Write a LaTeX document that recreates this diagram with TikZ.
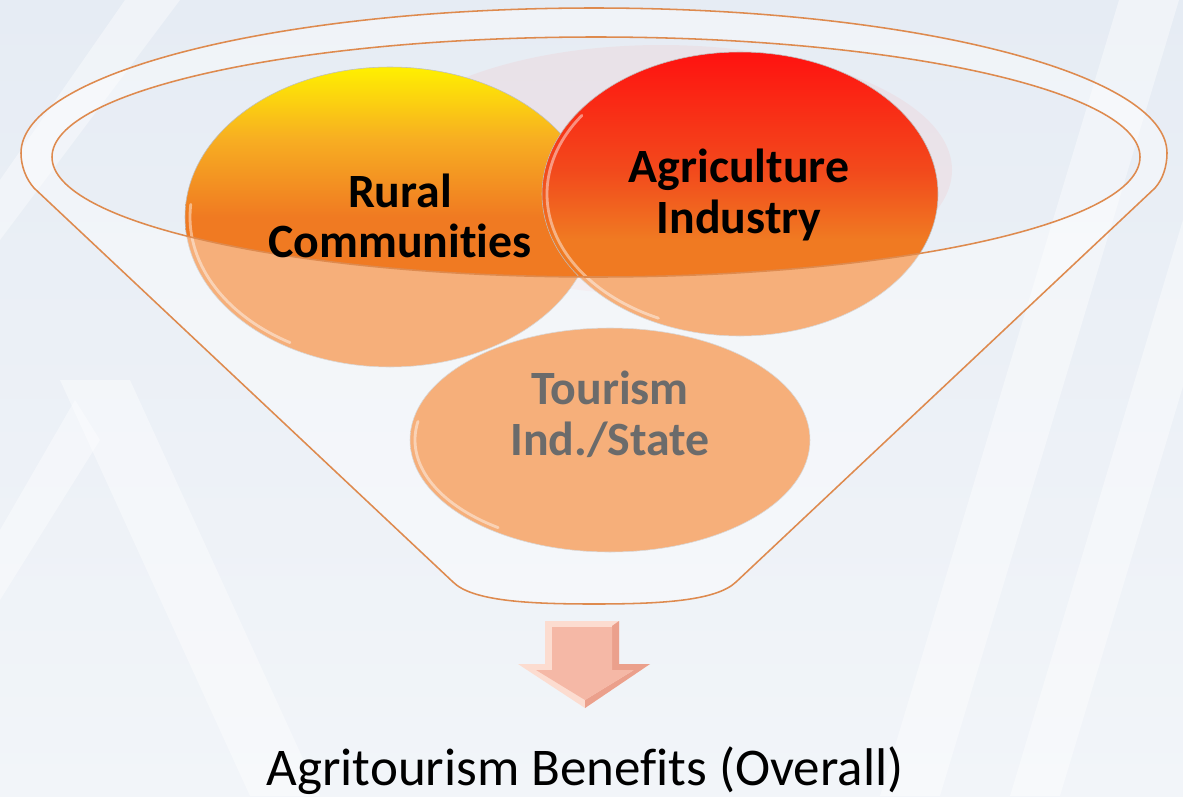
\documentclass[tikz,border=0pt]{standalone}
\usepackage{fontspec}
\setmainfont{Carlito}[Ligatures={NoCommon,NoContextual}]
\usepackage{xcolor}
\usepackage{tikz}
\usetikzlibrary{positioning}

\definecolor{bgtop}{HTML}{E6ECF4}
\definecolor{bgbottom}{HTML}{F2F5F9}
\definecolor{rimorange}{HTML}{DE8A4E}
\definecolor{baseorange}{HTML}{F07A22}
\definecolor{ruralyellow}{HTML}{FFF000}
\definecolor{ruralmid}{HTML}{F7AE22}
\definecolor{agrired}{HTML}{FF1210}
\definecolor{agrimid}{HTML}{F24A1C}
\definecolor{tourgrey}{HTML}{6B6B6B}
\definecolor{arrowpeach}{HTML}{F5B8A6}
\definecolor{arrowlight}{HTML}{FCDCD0}
\definecolor{arrowdark}{HTML}{EBA08C}

\pgfdeclareverticalshading{ruralshade}{100bp}{color(0bp)=(baseorange); color(50bp)=(baseorange); color(63bp)=(ruralmid); color(75bp)=(ruralyellow); color(100bp)=(ruralyellow)}
\pgfdeclareverticalshading{agrishade}{100bp}{color(0bp)=(baseorange); color(42bp)=(baseorange); color(54bp)=(agrimid); color(75bp)=(agrired); color(100bp)=(agrired)}

% outline of the funnel, rim on top
\newcommand\funneloutline{(21,153) arc[start angle=180, end angle=360, x radius=573, y radius=145]
    .. controls (1167,166) and (1163,179) .. (1155,188)
    -- (736,582)
    .. controls (716,601) and (660,604) .. (594,604)
    .. controls (528,604) and (472,601) .. (453,582)
    -- (34,188)
    .. controls (26,179) and (21,166) .. (21,153) -- cycle}

\begin{document}
\begin{tikzpicture}[x=0.025cm,y=-0.025cm,
    rim/.style={draw=rimorange, line width=1.1pt},
    disc/.style={draw=black!25, line width=0.4pt},
    gloss/.style={draw=white, opacity=0.45, line width=2pt, line cap=round},
    band/.style={fill=white, opacity=0.4},
    disctext/.style={font=\bfseries\fontsize{34}{36}\selectfont, align=center}]

    % backdrop
    \useasboundingbox (0,0) rectangle (1183,796);
    \clip (0,0) rectangle (1183,796);
    \shade[top color=bgtop, bottom color=bgbottom] (0,0) rectangle (1183,796);
    \fill[band] (60,380) -- (130,380) -- (320,796) -- (250,796) -- cycle;
    \fill[band] (0,600) -- (0,530) -- (75,400) -- (100,440) -- cycle;
    \fill[band] (0,240) -- (0,180) -- (125,0) -- (180,0) -- cycle;
    \fill[band] (880,796) -- (940,796) -- (1179,0) -- (1119,0) -- cycle;
    \fill[band] (1010,796) -- (1060,796) -- (1299,0) -- (1249,0) -- cycle;

    % faint glow behind the discs
    \fill[red!40, opacity=0.12] (661,170) ellipse [x radius=291, y radius=125];

    % the three discs
    \shadedraw[disc, top color=baseorange, bottom color=baseorange] (610,440) ellipse [x radius=200, y radius=112];
    \draw[gloss] (610,440) ++(125:195 and 107) arc[start angle=125, end angle=190, x radius=195, y radius=107];
    \shadedraw[disc, shading=ruralshade] (390,217) ellipse [x radius=205, y radius=150];
    \draw[gloss] (390,217) ++(120:200 and 145) arc[start angle=120, end angle=185, x radius=200, y radius=145];
    \shadedraw[disc, shading=agrishade] (740,194) ellipse [x radius=198, y radius=142];
    \draw[gloss] (740,194) ++(115:193 and 137) arc[start angle=115, end angle=215, x radius=193, y radius=137];

    % glassy front of the funnel, open at the inner rim
    \fill[white, opacity=0.4, even odd rule] \funneloutline
        (596,157) ellipse [x radius=544, y radius=120];
    \draw[rim] \funneloutline;
    \draw[rim] (596,157) ellipse [x radius=544, y radius=120];

    \node[disctext] (rural) at (400,216) {Rural\\Communities};
    \node[disctext] (agri) at (739,195) {Agriculture\\Industry};
    \node[disctext, text=tourgrey] (tourism) at (610,414) {Tourism\\Ind./State};

    % down arrow with a bevelled face
    \fill[arrowlight] (545,621) -- (619,621) -- (619,664) -- (650,664) -- (585,708) -- (518,664) -- (545,664) -- cycle;
    \fill[arrowdark] (619,621) -- (619,664) -- (650,664) -- (585,708) -- (585,700) -- (634,670) -- (612,670) -- (612,626) -- cycle;
    \fill[arrowpeach] (552,627) -- (612,627) -- (612,670) -- (634,670) -- (585,700) -- (536,670) -- (552,670) -- cycle;

    \node[anchor=base, font=\fontsize{37.7}{40}\selectfont] (benefits) at (585,785) {Agritourism Benefits (Overall)};
\end{tikzpicture}
\end{document}
